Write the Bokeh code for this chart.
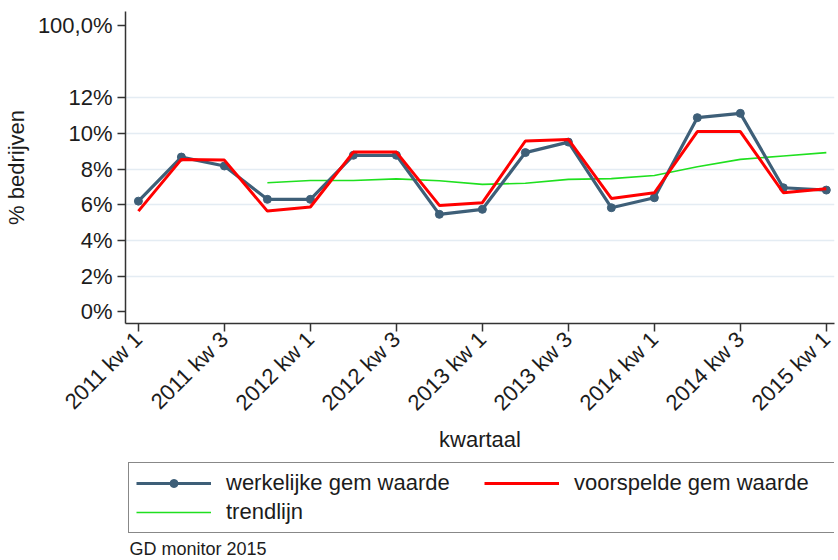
from bokeh.plotting import figure
from bokeh.layouts import column
from bokeh.models import FixedTicker, Legend, LegendItem, Range1d, Label, ColumnDataSource
from bokeh.embed import file_html
from bokeh.resources import INLINE

quarters = ["2011 kw 1", "2011 kw 2", "2011 kw 3", "2011 kw 4",
            "2012 kw 1", "2012 kw 2", "2012 kw 3", "2012 kw 4",
            "2013 kw 1", "2013 kw 2", "2013 kw 3", "2013 kw 4",
            "2014 kw 1", "2014 kw 2", "2014 kw 3", "2014 kw 4",
            "2015 kw 1"]
werkelijk = [6.20, 8.67, 8.17, 6.30, 6.30, 8.77, 8.77, 5.46, 5.74,
             8.92, 9.51, 5.83, 6.39, 10.88, 11.12, 6.95, 6.82]
voorspeld = [5.64, 8.54, 8.50, 5.64, 5.87, 8.95, 8.95, 5.96, 6.11,
             9.57, 9.66, 6.35, 6.67, 10.10, 10.10, 6.67, 6.90]
trend_start = "2011 kw 4"
trend = [7.23, 7.36, 7.36, 7.45, 7.34, 7.14, 7.20, 7.42, 7.46,
         7.64, 8.13, 8.54, 8.73, 8.92]
y_tick_values = [0, 2, 4, 6, 8, 10, 12, 16.07]
y_tick_labels = ["0%", "2%", "4%", "6%", "8%", "10%", "12%", "100,0%"]
x_tick_step = 2
series_names = ["werkelijke gem waarde", "voorspelde gem waarde", "trendlijn"]
source_note = "GD monitor 2015"

FONT = "Liberation Sans"
TXT = "#1c1c1c"
C_W, C_V, C_T = "#3e5f78", "#ff0000", "#1fe01f"
NAN = float("nan")

x = list(range(len(quarters)))
t0 = quarters.index(trend_start)
src_main = ColumnDataSource(dict(x=x, w=werkelijk, v=voorspeld))
src_trend = ColumnDataSource(dict(x=x[t0:t0 + len(trend)], t=trend))

p = figure(frame_width=709, frame_height=312,
           x_range=Range1d(-0.3, 16.19), y_range=Range1d(-0.66, 16.83),
           output_backend="svg", toolbar_location=None,
           min_border_left=125, min_border_top=11, min_border_right=2,
           min_border_bottom=131)
p.outline_line_color = None
p.background_fill_color = "white"
p.border_fill_color = "white"

p.line("x", "t", source=src_trend, line_color=C_T, line_width=1.6)
p.line("x", "w", source=src_main, line_color=C_W, line_width=3.2)
p.scatter("x", "w", source=src_main, size=8, marker="circle",
          fill_color=C_W, line_color=C_W)
p.line("x", "v", source=src_main, line_color=C_V, line_width=3)

# axes
p.xaxis.ticker = FixedTicker(ticks=x[::x_tick_step])
p.xaxis.major_label_overrides = {i: quarters[i] for i in x[::x_tick_step]}
p.xaxis.major_label_orientation = 0.785398
p.yaxis.ticker = FixedTicker(ticks=y_tick_values)
p.yaxis.major_label_overrides = dict(zip(y_tick_values, y_tick_labels))
for ax in (p.xaxis[0], p.yaxis[0]):
    ax.axis_line_color = "#333333"
    ax.axis_line_width = 1.5
    ax.major_tick_line_color = "#333333"
    ax.major_tick_line_width = 1.5
    ax.major_tick_out = 8
    ax.major_tick_in = 0
    ax.minor_tick_line_color = None
    ax.major_label_text_font = FONT
    ax.major_label_text_font_size = "22px"
    ax.major_label_text_color = TXT
    ax.axis_label_text_font = FONT
    ax.axis_label_text_font_size = "22px"
    ax.axis_label_text_font_style = "normal"
    ax.axis_label_text_color = TXT
p.xaxis.axis_label = "kwartaal"
p.yaxis.axis_label = "% bedrijven"
p.xaxis.major_label_standoff = 4
p.yaxis.major_label_standoff = 5
p.xaxis.axis_label_standoff = 0
p.yaxis.axis_label_standoff = 6

p.xgrid.grid_line_color = None
p.ygrid.ticker = FixedTicker(ticks=y_tick_values[1:7])
p.ygrid.grid_line_color = "#e4ecf3"
p.ygrid.grid_line_width = 1.5

# legend + source note panel
q = figure(width=836, height=104, x_range=Range1d(0, 1), y_range=Range1d(0, 1),
           output_backend="svg", toolbar_location=None,
           x_axis_location=None, y_axis_location=None,
           min_border_left=0, min_border_right=0, min_border_top=0, min_border_bottom=0)
q.outline_line_color = None
q.xgrid.grid_line_color = None
q.ygrid.grid_line_color = None
lw = q.line(x=[NAN], y=[NAN], line_color=C_W, line_width=3.2)
dw = q.scatter(x=[NAN], y=[NAN], size=8, marker="circle", fill_color=C_W, line_color=C_W)
lv = q.line(x=[NAN], y=[NAN], line_color=C_V, line_width=3)
lt = q.line(x=[NAN], y=[NAN], line_color=C_T, line_width=1.6)

legend = Legend(items=[
    LegendItem(label=series_names[0], renderers=[lw, dw]),
    LegendItem(label=series_names[1], renderers=[lv]),
    LegendItem(label=series_names[2], renderers=[lt]),
], orientation="horizontal", ncols=2, location=(3, 26))
legend.label_text_font = FONT
legend.label_text_font_size = "22px"
legend.label_text_color = TXT
legend.border_line_color = "#111111"
legend.border_line_width = 1.5
legend.glyph_width = 75
legend.glyph_height = 20
legend.label_height = 20
legend.label_width = 255
legend.label_standoff = 15
legend.padding = 7
legend.spacing = 3
legend.margin = 0
legend.background_fill_color = "white"
q.add_layout(legend, "center")

q.add_layout(Label(x=4, y=11, x_units="screen", y_units="screen",
                   text=source_note, text_font=FONT, text_font_size="18px",
                   text_color=TXT, text_baseline="alphabetic", text_align="left"))

layout = column(p, q, spacing=0)
open("out.html", "w").write(file_html(layout, INLINE))
